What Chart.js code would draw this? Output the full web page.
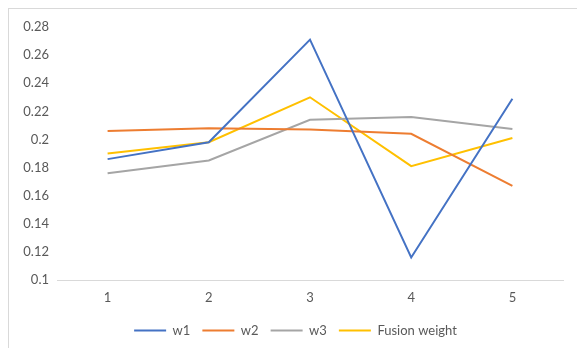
<!DOCTYPE html>
<html>
<head>
<meta charset="utf-8">
<script src="https://cdn.jsdelivr.net/npm/chart.js@4/dist/chart.umd.min.js"></script>
<style>
  html, body { margin: 0; padding: 0; background: #fff; }
  #wrap { width: 577px; height: 348px; position: relative; }
</style>
</head>
<body>
<div id="wrap"><canvas id="c" width="577" height="348"></canvas></div>
<script>
// Categories and series
const categories = ['1', '2', '3', '4', '5'];
const w1 = [0.186, 0.198, 0.271, 0.116, 0.229];
const w2 = [0.206, 0.208, 0.207, 0.204, 0.167];
const w3 = [0.176, 0.185, 0.214, 0.216, 0.2075];
const fusionWeight = [0.190, 0.198, 0.230, 0.181, 0.201];
const seriesNames = ['w1', 'w2', 'w3', 'Fusion weight'];
const yMin = 0.1, yMax = 0.28, yStep = 0.02;

const colors = ['#4472C4', '#ED7D31', '#A5A5A5', '#FFC000'];
const textColor = '#595959';
const fontFamily = 'Lato, "Open Sans", sans-serif';

// Outer frame of the chart object
const framePlugin = {
  id: 'frame',
  beforeDraw(chart) {
    const ctx = chart.ctx;
    ctx.save();
    ctx.strokeStyle = '#d9d9d9';
    ctx.lineWidth = 1;
    ctx.strokeRect(8.5, 8.5, 700, 500);
    ctx.restore();
  }
};

// Center the legend under the whole object rather than the padded area
const legendShift = {
  id: 'legendShift',
  afterLayout(chart) {
    if (chart.legend) {
      chart.legend.left += 9;
      chart.legend.right += 9;
    }
  }
};

const seriesData = [w1, w2, w3, fusionWeight];

new Chart(document.getElementById('c'), {
  type: 'line',
  data: {
    labels: categories,
    datasets: seriesNames.map((name, i) => ({
      label: name,
      data: seriesData[i],
      borderColor: colors[i],
      backgroundColor: colors[i],
      borderWidth: 2,
      pointRadius: 0,
      tension: 0,
      fill: false
    }))
  },
  options: {
    responsive: false,
    animation: false,
    layout: { padding: { left: 10, right: 14, top: 27, bottom: 1 } },
    plugins: {
      legend: {
        position: 'bottom',
        labels: {
          usePointStyle: true,
          pointStyle: 'line',
          pointStyleWidth: 32,
          color: textColor,
          font: { family: fontFamily, size: 13 },
          padding: 12
        }
      },
      tooltip: { enabled: false }
    },
    scales: {
      x: {
        offset: true,
        grid: { display: false },
        border: { display: true, color: '#d9d9d9', width: 1 },
        ticks: { color: textColor, font: { family: fontFamily, size: 13 }, padding: 2 },
        afterFit(scale) { scale.height = 32; }
      },
      y: {
        min: yMin,
        max: yMax,
        grid: { display: false },
        border: { display: false },
        ticks: {
          stepSize: yStep,
          color: textColor,
          font: { family: fontFamily, size: 13 },
          padding: 0,
          callback: v => String(Math.round(v * 100) / 100)
        },
        afterFit(scale) { scale.width = 47; }
      }
    }
  },
  plugins: [framePlugin, legendShift]
});
</script>
</body>
</html>
